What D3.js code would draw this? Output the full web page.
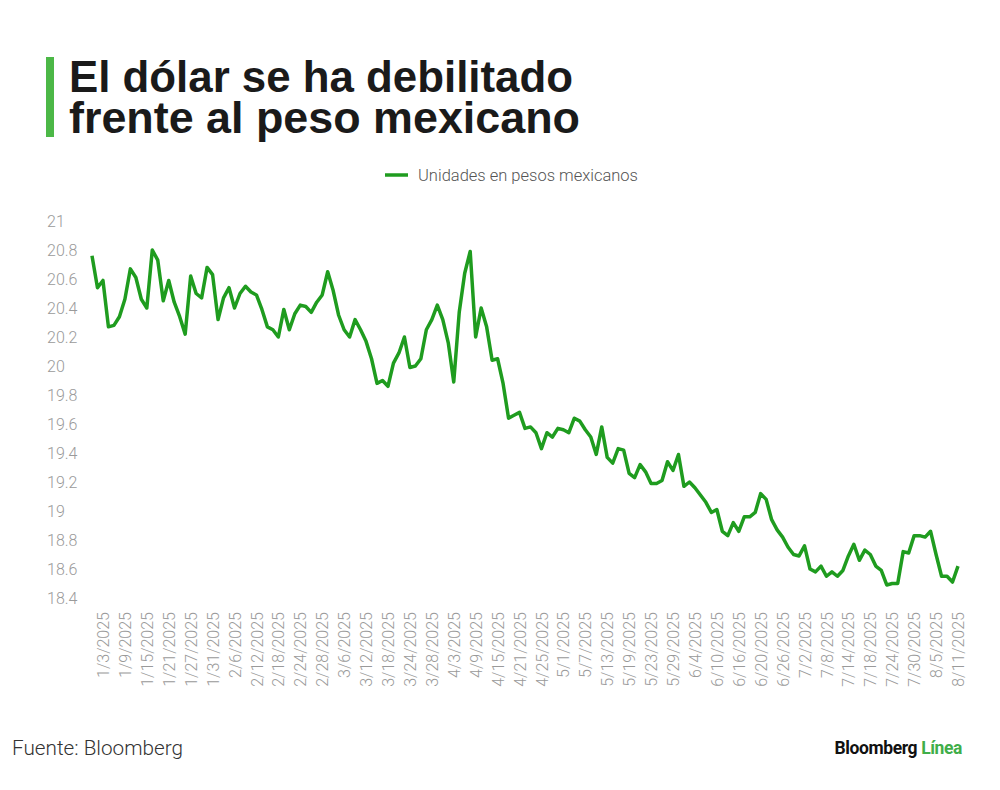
<!DOCTYPE html>
<html>
<head>
<meta charset="utf-8">
<script src="https://cdn.jsdelivr.net/npm/d3@7"></script>
<style>
  body { margin: 0; background: #fff; }
  svg { display: block; }
</style>
</head>
<body>
<svg id="chart" width="1000" height="790"></svg>
<script>
// USD/MXN, one value per weekday, 1/1/2025 - 8/11/2025
var rates = [
  20.76, 20.54, 20.59, 20.27, 20.28, 20.34, 20.46, 20.67, 20.61, 20.46,
  20.40, 20.80, 20.73, 20.45, 20.59, 20.44, 20.34, 20.22, 20.62, 20.50,
  20.47, 20.68, 20.63, 20.32, 20.47, 20.54, 20.40, 20.50, 20.55, 20.51,
  20.49, 20.39, 20.27, 20.25, 20.20, 20.39, 20.25, 20.36, 20.42, 20.41,
  20.37, 20.44, 20.49, 20.65, 20.52, 20.35, 20.25, 20.20, 20.32, 20.25,
  20.17, 20.05, 19.88, 19.90, 19.86, 20.02, 20.09, 20.20, 19.99, 20.00,
  20.05, 20.25, 20.32, 20.42, 20.32, 20.16, 19.89, 20.37, 20.64, 20.79,
  20.20, 20.40, 20.27, 20.04, 20.05, 19.88, 19.64, 19.66, 19.68, 19.57,
  19.58, 19.54, 19.43, 19.54, 19.51, 19.57, 19.56, 19.54, 19.64, 19.62,
  19.56, 19.51, 19.39, 19.58, 19.37, 19.33, 19.43, 19.42, 19.26, 19.23,
  19.32, 19.27, 19.19, 19.19, 19.21, 19.34, 19.28, 19.39, 19.17, 19.20,
  19.16, 19.11, 19.06, 18.99, 19.01, 18.86, 18.83, 18.92, 18.86, 18.96,
  18.96, 18.99, 19.12, 19.08, 18.94, 18.87, 18.82, 18.75, 18.70, 18.69,
  18.76, 18.60, 18.58, 18.62, 18.55, 18.58, 18.55, 18.59, 18.69, 18.77,
  18.66, 18.73, 18.70, 18.62, 18.59, 18.49, 18.50, 18.50, 18.72, 18.71,
  18.83, 18.83, 18.82, 18.86, 18.70, 18.55, 18.55, 18.51, 18.62
];

// categories: weekdays of the period
var dates = d3.utcDay.range(new Date(Date.UTC(2025, 0, 1)), new Date(Date.UTC(2025, 7, 12)))
  .filter(function(d) { return d.getUTCDay() != 0 && d.getUTCDay() != 6; });

var xLabels = [
  "1/3/2025", "1/9/2025", "1/15/2025", "1/21/2025", "1/27/2025", "1/31/2025",
  "2/6/2025", "2/12/2025", "2/18/2025", "2/24/2025", "2/28/2025", "3/6/2025",
  "3/12/2025", "3/18/2025", "3/24/2025", "3/28/2025", "4/3/2025", "4/9/2025",
  "4/15/2025", "4/21/2025", "4/25/2025", "5/1/2025", "5/7/2025", "5/13/2025",
  "5/19/2025", "5/23/2025", "5/29/2025", "6/4/2025", "6/10/2025", "6/16/2025",
  "6/20/2025", "6/26/2025", "7/2/2025", "7/8/2025", "7/14/2025", "7/18/2025",
  "7/24/2025", "7/30/2025", "8/5/2025", "8/11/2025"
];
var yTicks = [21, 20.8, 20.6, 20.4, 20.2, 20, 19.8, 19.6, 19.4, 19.2, 19, 18.8, 18.6, 18.4];

var fmt = function(d) { return (d.getUTCMonth() + 1) + "/" + d.getUTCDate() + "/" + d.getUTCFullYear(); };
var keys = dates.map(fmt);

var green = "#1f9c1f";
var svg = d3.select("#chart");

var x = d3.scalePoint().domain(keys).range([92, 958]);
var y = d3.scaleLinear().domain([18.4, 21]).range([598, 221]);

// title
svg.append("rect").attr("x", 46).attr("y", 57).attr("width", 8).attr("height", 80).attr("fill", "#4cb847");
svg.append("text").attr("x", 69).attr("y", 92)
  .attr("font-family", "Liberation Sans, Arial, sans-serif").attr("font-weight", "bold")
  .attr("font-size", 44).attr("fill", "#1a1a1a")
  .attr("textLength", 504).attr("lengthAdjust", "spacingAndGlyphs")
  .text("El dólar se ha debilitado");
svg.append("text").attr("x", 69).attr("y", 133)
  .attr("font-family", "Liberation Sans, Arial, sans-serif").attr("font-weight", "bold")
  .attr("font-size", 44).attr("fill", "#1a1a1a")
  .attr("textLength", 511).attr("lengthAdjust", "spacingAndGlyphs")
  .text("frente al peso mexicano");

// legend
svg.append("line").attr("x1", 385).attr("x2", 408).attr("y1", 175).attr("y2", 175)
  .attr("stroke", green).attr("stroke-width", 3.5);
svg.append("text").attr("x", 418).attr("y", 181)
  .attr("font-family", "Roboto, sans-serif").attr("font-weight", 300)
  .attr("font-size", 16.5).attr("fill", "#555")
  .attr("textLength", 220).attr("lengthAdjust", "spacingAndGlyphs")
  .text("Unidades en pesos mexicanos");

// y axis
var gy = svg.append("g").attr("transform", "translate(47,0)")
  .call(d3.axisLeft(y).tickValues(yTicks).tickSize(0).tickPadding(0).tickFormat(d3.format("")));
gy.select(".domain").remove();
gy.selectAll("text")
  .attr("x", 0).attr("text-anchor", "start")
  .attr("font-family", "Roboto, sans-serif").attr("font-weight", 300)
  .attr("font-size", 16).attr("fill", "#9a9a9a");

// x axis
var gx = svg.append("g")
  .call(d3.axisBottom(x).tickValues(xLabels).tickSize(0));
gx.select(".domain").remove();
gx.selectAll("text")
  .attr("transform", "rotate(-90)")
  .attr("x", -612).attr("y", 0).attr("dy", "0.35em")
  .attr("text-anchor", "end")
  .attr("font-family", "Roboto, sans-serif").attr("font-weight", 300)
  .attr("font-size", 16).attr("fill", "#9a9a9a");

// line
var line = d3.line()
  .x(function(d, i) { return x(keys[i]); })
  .y(function(d) { return y(d); });

svg.append("path").datum(rates)
  .attr("fill", "none")
  .attr("stroke", green)
  .attr("stroke-width", 3.5)
  .attr("stroke-linejoin", "round")
  .attr("d", line);

// footer
svg.append("text").attr("x", 12).attr("y", 755)
  .attr("font-family", "Roboto, sans-serif").attr("font-weight", 300)
  .attr("font-size", 20).attr("fill", "#333")
  .attr("textLength", 171).attr("lengthAdjust", "spacingAndGlyphs")
  .text("Fuente: Bloomberg");
var brand = svg.append("text").attr("x", 962).attr("y", 754).attr("text-anchor", "end")
  .attr("font-family", "Roboto, sans-serif").attr("font-weight", "bold")
  .attr("font-size", 17.5).attr("letter-spacing", -0.4);
brand.append("tspan").attr("fill", "#111").text("Bloomberg ");
brand.append("tspan").attr("fill", "#3fae49").text("Línea");
</script>
</body>
</html>
